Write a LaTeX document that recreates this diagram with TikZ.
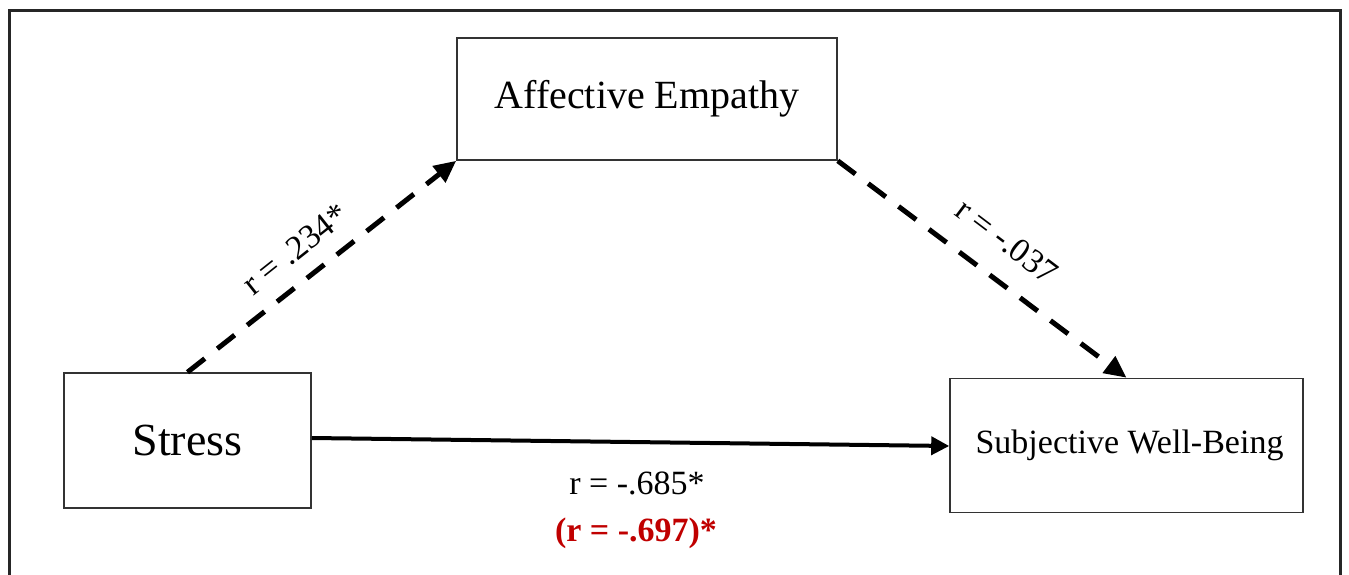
\documentclass[tikz,border=0pt]{standalone}
\usepackage{fontspec}
\setmainfont{Liberation Serif}
\usetikzlibrary{arrows.meta,calc}
\definecolor{darkred}{HTML}{C00000}
\begin{document}
\begin{tikzpicture}[x=1pt,y=-1pt,
  box/.style={draw=black!80,line width=1.6pt,inner sep=0pt,fill=white},
  dasharrow/.style={line width=5pt,dash pattern=on 22pt off 16pt,-{Triangle[length=22pt,width=20pt]}},
  solidarrow/.style={line width=4pt,-{Triangle[length=18pt,width=18pt]}},
  lbl/.style={font=\fontsize{34}{40}\selectfont,inner sep=0pt}]
\useasboundingbox (0,0) rectangle (1349,575);
\draw[line width=3pt,black!85] (9,575) -- (9,11) -- (1340,11) -- (1340,575);
\node[box,minimum width=380pt,minimum height=122pt,font=\fontsize{40}{48}\selectfont] (ae) at (647,99) {Affective Empathy};
\node[box,minimum width=247pt,minimum height=135pt,font=\fontsize{46}{54}\selectfont] (stress) at (187.5,440.5) {Stress};
\node[box,minimum width=353pt,minimum height=134pt,font=\fontsize{34}{40}\selectfont] (swb) at (1126.5,445.5) {\hspace*{6pt}Subjective Well-Being};
\draw[dasharrow] (stress.north) -- (ae.south west);
\draw[dasharrow] (ae.south east) -- (swb.north);
\draw[solidarrow] ($(stress.east)+(0,-2.5)$) -- ($(swb.west)+(0,0.5)$);
\node[lbl,rotate=38.4] (l1) at (295,249) {r = .234*};
\node[lbl,rotate=-37.1] (l2) at (1007,241) {r = -.037};
\node[lbl] (l3) at (637,483) {r = -.685*};
\node[lbl,text=darkred,font=\bfseries\fontsize{34}{40}\selectfont] (l4) at (636,533) {(r = -.697)*};
\end{tikzpicture}
\end{document}
